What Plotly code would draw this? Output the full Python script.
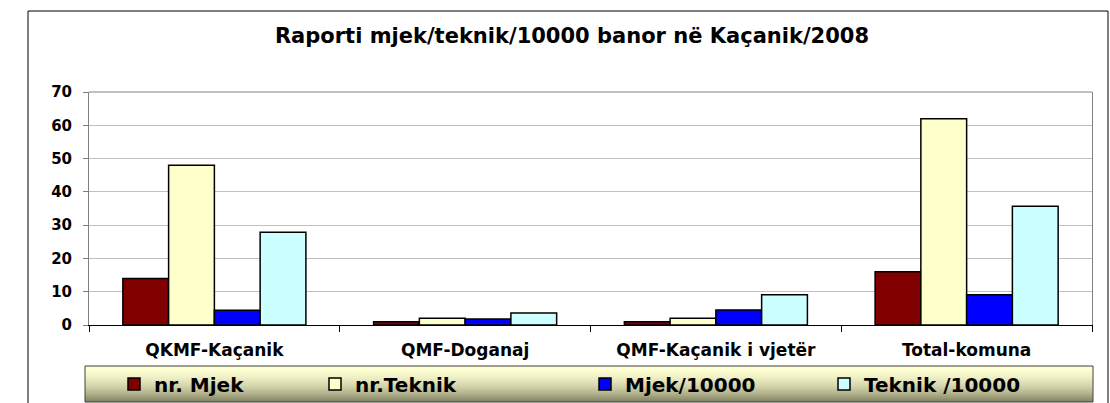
import plotly.graph_objects as go

categories = ["QKMF-Kaçanik", "QMF-Doganaj", "QMF-Kaçanik i vjetër", "Total-komuna"]
series_names = ["nr. Mjek", "nr.Teknik", "Mjek/10000", "Teknik /10000"]
nr_mjek = [14, 1, 1, 16]
nr_teknik = [48, 2, 2, 62]
mjek_10000 = [4.4, 1.8, 4.5, 9.1]
teknik_10000 = [27.9, 3.6, 9.1, 35.7]
y_ticks = [0, 10, 20, 30, 40, 50, 60, 70]
title_text = "Raporti mjek/teknik/10000 banor në Kaçanik/2008"

colors = ["#800000", "#FFFFCC", "#0000FF", "#CCFFFF"]
values = [nr_mjek, nr_teknik, mjek_10000, teknik_10000]

FONT = "DejaVu Sans, Arial, sans-serif"
W, H = 1110, 403
L, R, T, B = 89, 18, 92, 78
pw = W - L - R
ph = H - T - B


def px_x(x):
    return (x - L) / pw


def px_y(y):
    return (H - B - y) / ph


fig = go.Figure()
legend_ids = ["legend", "legend2", "legend3", "legend4"]
for name, vals, col, lg in zip(series_names, values, colors, legend_ids):
    fig.add_trace(go.Bar(
        x=categories, y=vals, name=name,
        marker=dict(color=col, line=dict(color="black", width=1.5)),
        legend=lg,
    ))

shapes = []
# outer chart border
shapes.append(dict(type="rect", xref="paper", yref="paper",
                   x0=px_x(28), x1=px_x(1108), y0=px_y(415), y1=px_y(11),
                   line=dict(color="black", width=1), fillcolor="rgba(0,0,0,0)", layer="below"))
# legend gradient box
top_px, bot_px = 366, 402
n = bot_px - top_px
c_top = (255, 255, 212)
c_bot = (128, 128, 96)
for i in range(n):
    t = (i + 0.5) / n
    f = t ** 1.8
    c = tuple(int(round(a + (b - a) * f)) for a, b in zip(c_top, c_bot))
    shapes.append(dict(type="rect", xref="paper", yref="paper",
                       x0=px_x(85), x1=px_x(1093), y0=px_y(top_px + i + 1), y1=px_y(top_px + i),
                       line=dict(width=0), fillcolor="rgb(%d,%d,%d)" % c, layer="below"))
shapes.append(dict(type="rect", xref="paper", yref="paper",
                   x0=px_x(85), x1=px_x(1093), y0=px_y(bot_px), y1=px_y(top_px),
                   line=dict(color="#404040", width=1), fillcolor="rgba(0,0,0,0)", layer="below"))
# top border of plot area
shapes.append(dict(type="line", xref="paper", yref="paper", x0=0, x1=1, y0=1, y1=1,
                   line=dict(color="#808080", width=1)))

legend_font = dict(family=FONT, size=20, color="black", weight="bold")
leg_left = [114, 315, 585, 824]
leg_layout = {}
for lg, lx in zip(legend_ids, leg_left):
    leg_layout[lg] = dict(x=px_x(lx), xanchor="left", y=px_y(384), yanchor="middle",
                          orientation="h", bgcolor="rgba(0,0,0,0)", borderwidth=0,
                          font=legend_font, itemwidth=30)

fig.update_layout(
    width=W, height=H,
    margin=dict(l=L, r=R, t=T, b=B, pad=0, autoexpand=False),
    paper_bgcolor="white", plot_bgcolor="white",
    title=dict(text=title_text, x=572 / W, xref="container", xanchor="center",
               y=1 - 36 / H, yref="container", yanchor="middle",
               font=dict(family=FONT, size=21, color="black", weight="bold")),
    barmode="group", bargap=0.27, bargroupgap=0,
    shapes=shapes,
    showlegend=True,
    **leg_layout,
)
fig.update_xaxes(
    showline=True, linecolor="black", linewidth=1,
    ticks="outside", tickson="boundaries", ticklen=6, tickcolor="black",
    tickfont=dict(family=FONT, size=17, color="black", weight="bold"),
    ticklabelstandoff=10,
    showgrid=False,
)
fig.update_yaxes(
    range=[0, 70], tickvals=y_ticks,
    showline=True, linecolor="#808080", linewidth=1, mirror=True,
    ticks="outside", ticklen=5, tickcolor="#808080",
    gridcolor="#C0C0C0", gridwidth=1,
    tickfont=dict(family=FONT, size=15, color="black", weight="bold"),
    ticklabelstandoff=8,
    zeroline=False,
)

fig.write_html("out.html", config={"displayModeBar": False},
               post_script="document.body.style.margin='0';")
